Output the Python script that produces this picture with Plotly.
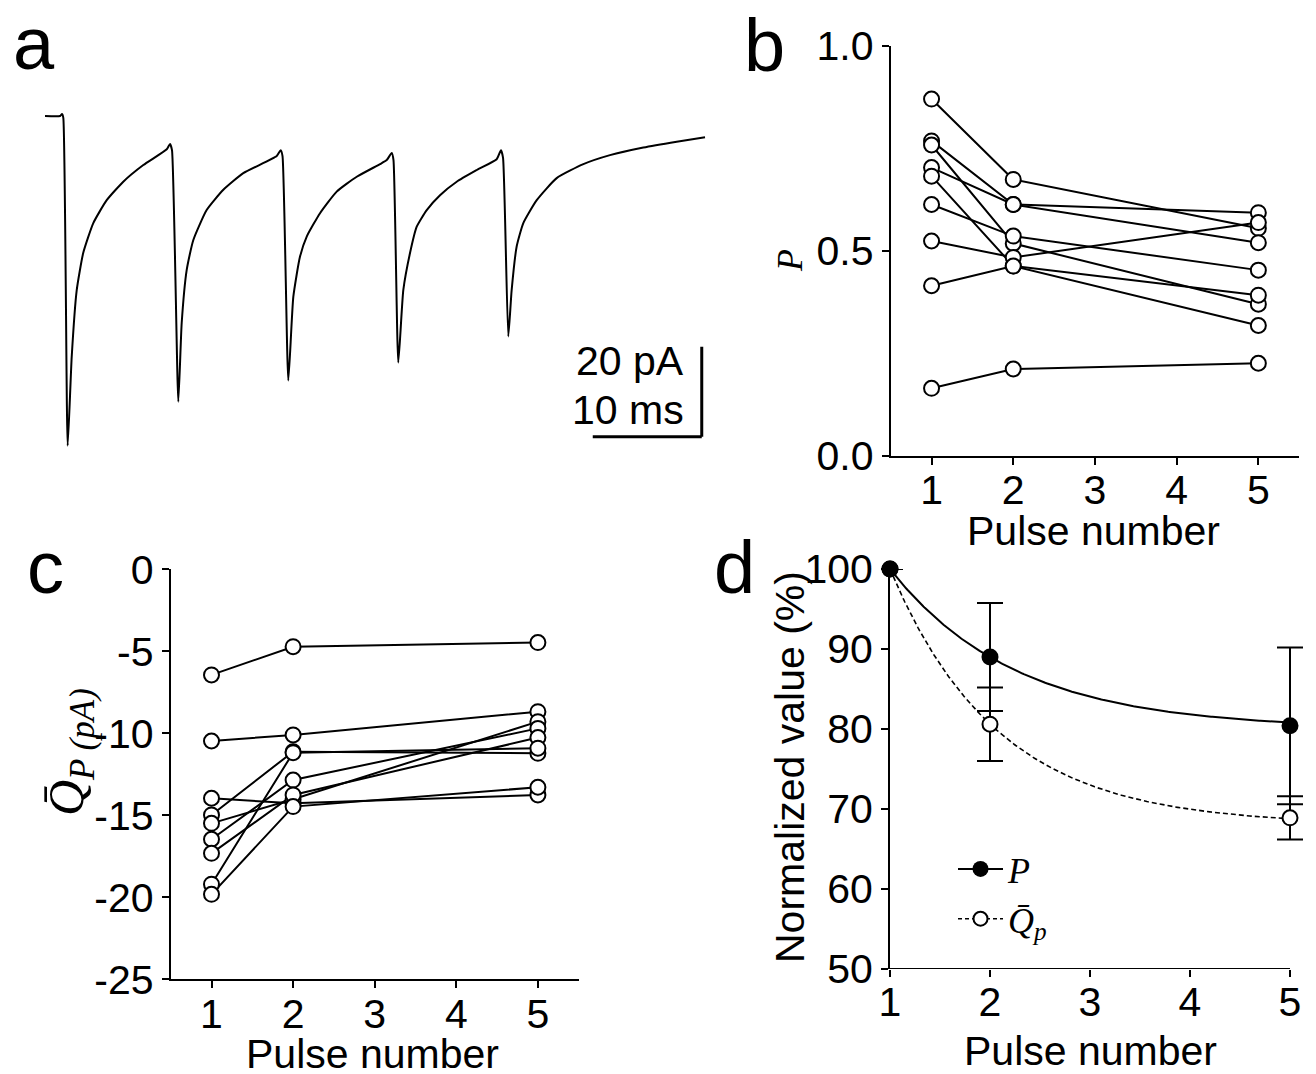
import numpy as np
import plotly.graph_objects as go

W, H = 1316, 1074

# ---------------- data ----------------
# Panel a: current trace (time in ms, current in pA)
trace_t = [0, 1.38, 1.56, 1.68, 2.08, 2.45, 2.91, 3.51, 4.43, 5.66, 7.18, 9.02, 11.17,
           11.47, 11.65, 12.23, 12.54, 13.0, 13.6, 14.83, 16.36, 18.19, 21.26,
           21.62, 21.79, 22.32, 22.78, 23.39, 24.01, 25.23, 26.76, 28.6, 30.73, 31.35,
           31.81, 31.97, 32.41, 32.87, 33.49, 34.1, 35.02, 36.24, 37.77, 39.61, 41.44,
           41.83, 42.02, 42.5, 42.81, 43.27, 43.88, 45.11, 46.94, 49.39, 51.83, 54.89,
           57.95, 60.55]
trace_i = [0, 0, 0.44, -0.4, -73.3, -53.5, -38.7, -30.4, -23.8, -18.7, -14.6, -10.9, -7.4,
           -6.2, -7.6, -63.5, -46.0, -34.2, -27.6, -20.9, -16.4, -12.7, -8.9,
           -7.6, -8.9, -58.8, -40.2, -31.3, -26.8, -21.6, -16.8, -13.5, -10.7, -9.8,
           -8.2, -9.8, -54.8, -38.7, -30.4, -24.6, -20.9, -17.6, -14.6, -12.0, -9.6,
           -7.6, -9.3, -49.0, -38.7, -29.0, -23.8, -18.7, -13.8, -10.7, -8.7, -7.0,
           -5.7, -4.7]
scale_ms = 10
scale_pa = 20

pulses = [1, 2, 5]

# Panel b: P per cell at pulses 1, 2, 5
p_cells = [
    [0.870, 0.674, 0.555],
    [0.768, 0.613, 0.593],
    [0.758, 0.518, 0.370],
    [0.703, 0.613, 0.520],
    [0.682, 0.463, 0.318],
    [0.613, 0.536, 0.453],
    [0.524, 0.484, 0.569],
    [0.415, 0.463, 0.392],
    [0.165, 0.212, 0.226],
]

# Panel c: mean quantal amplitude per cell (pA)
q_cells = [
    [-6.44, -4.72, -4.47],
    [-10.47, -10.10, -8.68],
    [-13.96, -14.27, -13.76],
    [-14.98, -11.12, -11.22],
    [-15.49, -14.02, -9.29],
    [-16.46, -12.85, -9.70],
    [-17.32, -13.76, -10.26],
    [-19.20, -11.18, -10.91],
    [-19.82, -14.47, -13.29],
]

# Panel d: normalized values (%)
norm_p = [100, 89.0, 80.4]
norm_p_err = [0, 6.75, 9.8]
norm_q = [100, 80.6, 68.9]
norm_q_err = [0, 4.6, 2.7]
fit_p = dict(A=80.0, B=20.0, k=0.80)   # exponential fit parameters
fit_q = dict(A=68.0, B=32.0, k=0.93)

x_ticks = [1, 2, 3, 4, 5]
b_yticks = [0, 0.5, 1.0]
b_yticklabels = ["0.0", "0.5", "1.0"]
c_yticks = [-25, -20, -15, -10, -5, 0]
c_yticklabels = ["-25", "-20", "-15", "-10", "-5", "0"]
d_yticks = [50, 60, 70, 80, 90, 100]

# ---------------- figure ----------------
SANS = "Liberation Sans, Arial, sans-serif"
SERIF = "Liberation Serif, Times New Roman, serif"
TICK = 41


def xd(p0, p1):
    return [p0 / W, p1 / W]


def yd(top, bottom):
    return [1 - bottom / H, 1 - top / H]


fig = go.Figure()

# panel a
fig.add_trace(go.Scatter(x=trace_t, y=trace_i, mode="lines",
                         line=dict(color="black", width=2, shape="spline", smoothing=0.5),
                         xaxis="x", yaxis="y", showlegend=False, hoverinfo="skip"))

# panel b
for cell in p_cells:
    fig.add_trace(go.Scatter(x=pulses, y=cell, mode="lines", line=dict(color="black", width=2),
                             xaxis="x2", yaxis="y2", showlegend=False, cliponaxis=False))
for cell in p_cells:
    fig.add_trace(go.Scatter(x=pulses, y=cell, mode="markers",
                             marker=dict(symbol="circle", size=15, color="white",
                                         line=dict(color="black", width=2)),
                             xaxis="x2", yaxis="y2", showlegend=False, cliponaxis=False))

# panel c
for cell in q_cells:
    fig.add_trace(go.Scatter(x=pulses, y=cell, mode="lines", line=dict(color="black", width=2),
                             xaxis="x3", yaxis="y3", showlegend=False, cliponaxis=False))
for cell in q_cells:
    fig.add_trace(go.Scatter(x=pulses, y=cell, mode="markers",
                             marker=dict(symbol="circle", size=15, color="white",
                                         line=dict(color="black", width=2)),
                             xaxis="x3", yaxis="y3", showlegend=False, cliponaxis=False))

# panel d
xs = np.linspace(1, 5, 300)
yp = fit_p["A"] + fit_p["B"] * np.exp(-fit_p["k"] * (xs - 1))
yq = fit_q["A"] + fit_q["B"] * np.exp(-fit_q["k"] * (xs - 1))
fig.add_trace(go.Scatter(x=xs, y=yp, mode="lines", line=dict(color="black", width=2),
                         xaxis="x4", yaxis="y4", showlegend=False, cliponaxis=False))
fig.add_trace(go.Scatter(x=xs, y=yq, mode="lines",
                         line=dict(color="black", width=1.6, dash="5px,3px"),
                         xaxis="x4", yaxis="y4", showlegend=False, cliponaxis=False))
fig.add_trace(go.Scatter(x=pulses, y=norm_q, mode="markers",
                         marker=dict(symbol="circle", size=15, color="white",
                                     line=dict(color="black", width=2)),
                         error_y=dict(type="data", array=norm_q_err, color="black",
                                      thickness=2, width=13),
                         xaxis="x4", yaxis="y4", showlegend=False, cliponaxis=False))
fig.add_trace(go.Scatter(x=pulses, y=norm_p, mode="markers",
                         marker=dict(symbol="circle", size=17, color="black"),
                         error_y=dict(type="data", array=norm_p_err, color="black",
                                      thickness=2, width=13),
                         xaxis="x4", yaxis="y4", showlegend=False, cliponaxis=False))
# legend entries (no data)
fig.add_trace(go.Scatter(x=[None], y=[None], mode="lines+markers", name="<i>P</i>",
                         line=dict(color="black", width=2),
                         marker=dict(symbol="circle", size=17, color="black"),
                         xaxis="x4", yaxis="y4", showlegend=True))
fig.add_trace(go.Scatter(x=[None], y=[None], mode="lines+markers",
                         name="<i>Q\u0304<sub>p</sub></i>",
                         line=dict(color="black", width=1.6, dash="4px,3px"),
                         marker=dict(symbol="circle", size=14, color="white",
                                     line=dict(color="black", width=2)),
                         xaxis="x4", yaxis="y4", showlegend=True))

axis_common = dict(showline=True, linecolor="black", linewidth=2, ticks="outside",
                   ticklen=7, tickwidth=2, tickcolor="black", showgrid=False,
                   zeroline=False, tickfont=dict(family=SANS, size=TICK, color="black"),
                   fixedrange=True, automargin=False)
xaxis_common = dict(axis_common, ticklabelstandoff=-10)

D_XMAX = 5.13  # a little room so the last error bars are not clipped

fig.update_layout(
    width=W, height=H,
    margin=dict(l=0, r=0, t=0, b=0, pad=0, autoexpand=False),
    paper_bgcolor="white", plot_bgcolor="white",
    xaxis=dict(domain=xd(39.55, 712), range=[-0.5, 61.19], visible=False, fixedrange=True),
    yaxis=dict(domain=yd(98, 453.5), range=[-75, 4], visible=False, fixedrange=True),
    xaxis2=dict(domain=xd(890.7, 1299.2), range=[0.5, 5.5], tickvals=x_ticks,
                anchor="y2", **xaxis_common),
    yaxis2=dict(domain=yd(45.7, 456), range=[0, 1], tickvals=b_yticks,
                ticktext=b_yticklabels, anchor="x2", **axis_common),
    xaxis3=dict(domain=xd(170.7, 578.7), range=[0.5, 5.5], tickvals=x_ticks,
                anchor="y3", **xaxis_common),
    yaxis3=dict(domain=yd(569.3, 979.3), range=[-25, 0], tickvals=c_yticks,
                ticktext=c_yticklabels, anchor="x3", **axis_common),
    xaxis4=dict(domain=xd(890, 890 + 100 * (D_XMAX - 1)), range=[1, D_XMAX],
                tickvals=x_ticks, anchor="y4", **{**xaxis_common, "showline": False}),
    yaxis4=dict(domain=yd(569, 969), range=[50, 100], tickvals=d_yticks,
                anchor="x4", **axis_common),
    legend=dict(x=953 / W, y=1 - 839 / H, xanchor="left", yanchor="top",
                bgcolor="rgba(0,0,0,0)", itemwidth=45,
                font=dict(family=SERIF, size=36, color="black"),
                tracegroupgap=0),
    showlegend=True,
)

# x-axis line of panel d, ending at the last tick
fig.add_shape(type="line", xref="x4", yref="y4", x0=x_ticks[0], x1=x_ticks[-1],
              y0=d_yticks[0], y1=d_yticks[0], line=dict(color="black", width=2))

# scale bar (data coordinates of panel a)
sb_x1 = 60.25
sb_y0 = -71.3
fig.add_shape(type="line", xref="x", yref="y", x0=sb_x1 - scale_ms, x1=sb_x1,
              y0=sb_y0, y1=sb_y0, line=dict(color="black", width=3))
fig.add_shape(type="line", xref="x", yref="y", x0=sb_x1, x1=sb_x1,
              y0=sb_y0, y1=sb_y0 + scale_pa, line=dict(color="black", width=3))

ann = []


def text(x, y, s, size=TICK, family=SANS, angle=0, xanchor="center", yanchor="middle"):
    ann.append(dict(x=x / W, y=1 - y / H, xref="paper", yref="paper", text=s,
                    showarrow=False, textangle=angle, xanchor=xanchor, yanchor=yanchor,
                    font=dict(family=family, size=size, color="black")))


text(686, 361, f"{scale_pa} pA", xanchor="right")
text(686, 410, f"{scale_ms} ms", xanchor="right")

# panel letters
text(34, 44, "a", size=74)
text(764, 45, "b", size=74)
text(45, 567, "c", size=74)
text(735, 567, "d", size=74)

# axis titles
text(1093, 531, "Pulse number")
text(372, 1054, "Pulse number")
text(1090, 1051, "Pulse number")
text(790, 767, "Normalized value (%)", angle=-90)
text(790, 261, "<i>P</i>", size=36, family=SERIF, angle=-90)
text(70, 752, "<i>Q\u0304<sub>P (pA)</sub></i>", size=50, family=SERIF, angle=-90)

fig.update_layout(annotations=ann)

fig.write_html("out.html",
               config={"displayModeBar": False},
               post_script="document.body.style.margin='0';"
                           "document.documentElement.style.overflow='hidden';")
